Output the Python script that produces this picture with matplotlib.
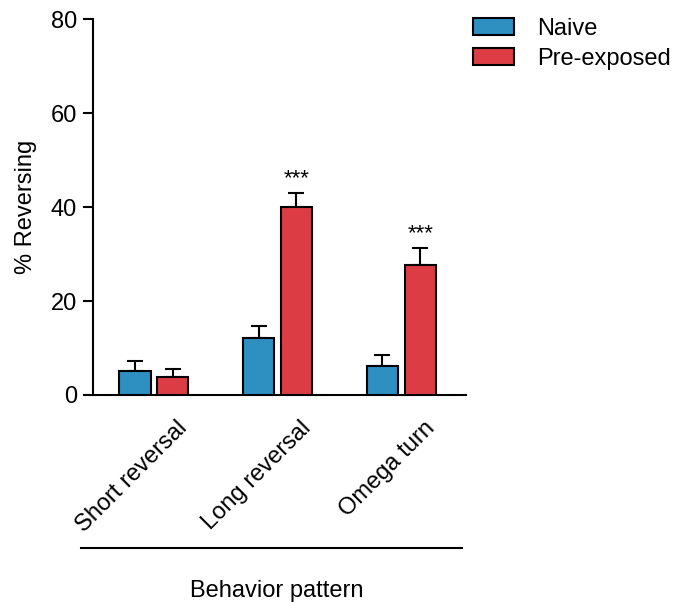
import matplotlib
matplotlib.use("Agg")
import matplotlib.pyplot as plt
import matplotlib.transforms as mtransforms
from matplotlib.lines import Line2D
import numpy as np

plt.rcParams['font.family'] = ['Liberation Sans', 'DejaVu Sans']

categories = ["Short reversal", "Long reversal", "Omega turn"]
groups = ["Naive", "Pre-exposed"]
naive_mean = [5.1, 12.1, 6.1]
naive_err = [2.2, 2.5, 2.5]
pre_mean = [3.8, 40.1, 27.6]
pre_err = [1.8, 2.8, 3.6]
stars = ["", "***", "***"]

colors = ["#2E8FC1", "#DC3D45"]
FS = 17

fig = plt.figure(figsize=(6.79, 6.02), dpi=100)
ax = fig.add_axes([0.137, 0.344, 0.549, 0.624])

x = np.arange(len(categories))
w = 0.255
off = 0.153

for vals, errs, col, dx, lab in [(naive_mean, naive_err, colors[0], -off, groups[0]),
                                  (pre_mean, pre_err, colors[1], off, groups[1])]:
    ax.bar(x + dx, vals, width=w, color=col, edgecolor='black', linewidth=1.5,
           label=lab, zorder=3)
    ax.errorbar(x + dx, vals, yerr=[np.zeros(len(vals)), errs], fmt='none',
                ecolor='black', elinewidth=1.5, capsize=6, capthick=1.5, zorder=2)

for i, s in enumerate(stars):
    if s:
        ax.text(x[i] + off, pre_mean[i] + pre_err[i] + 1.0, s, ha='center', va='bottom',
                fontsize=16)

ax.set_xlim(-0.49, 2.52)
ax.set_ylim(0, 80)
ax.set_yticks([0, 20, 40, 60, 80])
ax.set_ylabel("% Reversing", fontsize=FS, labelpad=10)
ax.tick_params(axis='y', labelsize=FS, width=1.5, length=7.5, direction='out', pad=4)
ax.tick_params(axis='x', length=0)
ax.set_xticks(x)
ax.set_xticklabels([])
for sp in ['top', 'right']:
    ax.spines[sp].set_visible(False)
for sp in ['left', 'bottom']:
    ax.spines[sp].set_linewidth(1.5)

# rotated category labels, right end near the right of each group
shift = mtransforms.ScaledTranslation(0.30, -0.30, fig.dpi_scale_trans)
for i, c in enumerate(categories):
    ax.text(x[i], 0, c, rotation=45, ha='right', va='center', rotation_mode='anchor',
            fontsize=FS, transform=ax.get_xaxis_transform() + shift)

fig.add_artist(Line2D([80.7 / 679, 461.7 / 679], [1 - 548 / 602] * 2,
                      color='black', linewidth=1.5))
fig.text(277 / 679, 1 - 591 / 602, "Behavior pattern", ha='center', va='center',
         fontsize=FS)

fig.legend(loc='upper left', bbox_to_anchor=(0.666, 1.006), frameon=False,
           fontsize=FS, handlelength=1.7, handleheight=0.72, handletextpad=1.0,
           labelspacing=0.35)

fig.savefig("out.png", dpi=100)
